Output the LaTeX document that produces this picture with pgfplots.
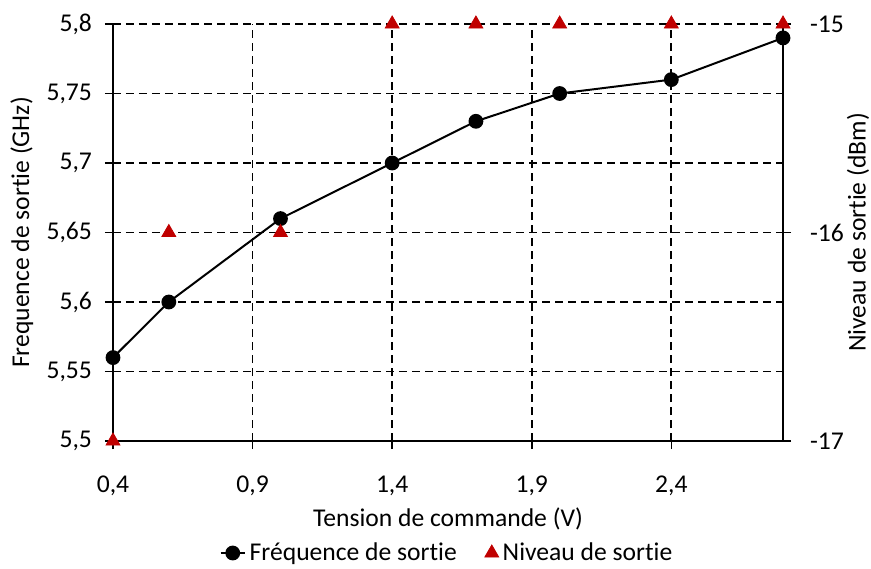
\documentclass[border=0pt]{standalone}
\usepackage{pgfplots}
\pgfplotsset{compat=1.18}
\usepackage{fontspec}
\setmainfont{Carlito}[Ligatures=NoCommon]
\definecolor{niv}{RGB}{192,0,0}
\newcommand\fs{\fontsize{12.8}{15}\selectfont}
\begin{document}
\begin{tikzpicture}
  \useasboundingbox (-56.5pt,-63.5pt) rectangle (379pt,220.5pt);
  \pgfplotsset{
    base/.style={
      scale only axis, width=335pt, height=208.5pt,
      xmin=0.4, xmax=2.8, clip=false,
      /pgf/number format/assume math mode=true,
      /pgf/number format/use comma,
      tick label style={font=\fs, black},
      label style={font=\fs, black},
      tick style={black, line width=0.8pt},
      major tick length=4pt, tick align=outside,
      axis line style={-, black, line width=0.8pt},
      every outer x axis line/.append style={-},
      every outer y axis line/.append style={-},
      every inner x axis line/.append style={-},
      every inner y axis line/.append style={-},
    }
  }

  %% --- fréquence (axe gauche) ---
  \begin{axis}[base,
      axis x line*=bottom, axis y line*=left,
      ymin=5.5, ymax=5.8,
      ytick={5.5,5.55,5.6,5.65,5.7,5.75,5.8},
      xtick={0.4,0.9,1.4,1.9,2.4},
      yticklabel style={/pgf/number format/fixed, /pgf/number format/precision=2, xshift=-3pt},
      xticklabel style={yshift=-10pt},
      grid=major,
      grid style={black, line width=0.9pt, dash pattern=on 4pt off 2.5pt},
      xlabel={Tension de commande (V)},
      ylabel={Frequence de sortie (GHz)},
      xlabel style={at={(axis description cs:0.5,-0.187)}, anchor=center},
      ylabel style={at={(axis description cs:-0.136,0.5)}, anchor=center},
    ]
    \addplot[black, line width=1pt, mark=*, mark size=3.2pt]
      coordinates {
        (0.4, 5.56) (0.6, 5.60) (1.0, 5.66) (1.4, 5.70)
        (1.7, 5.73) (2.0, 5.75) (2.4, 5.76) (2.8, 5.79)
      };
  \end{axis}

  %% --- niveau (axe droit) ---
  \begin{axis}[base,
      axis x line=none, axis y line*=right,
      ymin=-17, ymax=-15,
      ytick={-17,-16,-15}, yticklabels={-17,-16,-15},
      yticklabel style={xshift=6pt},
      ylabel={Niveau de sortie (dBm)},
      ylabel style={at={(axis description cs:1.112,0.5)}, anchor=center},
      legend style={at={(axis description cs:0.5,-0.2686)}, anchor=center,
        draw=none, fill=none, font=\fs, legend columns=2,
        /tikz/every even column/.append style={column sep=12pt}},
    ]
    \addlegendimage{black, line width=1pt, mark=*, mark size=3.2pt,
      legend image code/.code={
        \draw[mark repeat=2, mark phase=2] plot coordinates {(0pt,0pt) (6pt,0pt) (12pt,0pt)};}}
    \addlegendentry{Fréquence de sortie}
    \addplot[only marks, niv, mark=triangle*, mark size=4pt]
      coordinates {
        (0.4, -17) (0.6, -16) (1.0, -16) (1.4, -15)
        (1.7, -15) (2.0, -15) (2.4, -15) (2.8, -15)
      };
    \addlegendentry{Niveau de sortie}
  \end{axis}
\end{tikzpicture}
\end{document}
